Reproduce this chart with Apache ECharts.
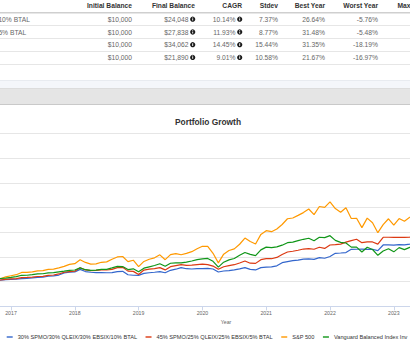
<!DOCTYPE html>
<html><head><meta charset="utf-8">
<script src="https://cdn.jsdelivr.net/npm/echarts@6/dist/echarts.min.js"></script>
<style>html,body{margin:0;padding:0;background:#fff;overflow:hidden;}
#wrap{position:relative;width:410px;height:342px;overflow:hidden;}
#c{position:absolute;left:-120px;top:0;width:700px;height:342px;}</style>
</head><body><div id="wrap"><div id="c"></div></div>
<script>
// ---------- DATA ----------
const seriesNames = ['30% SPMO/30% QLEIX/30% EBSIX/10% BTAL', '45% SPMO/25% QLEIX/25% EBSIX/5% BTAL', 'S&P 500', 'Vanguard Balanced Index Inv'];
const startYear = 2016; // monthly balances from Jan 2016 (start) to Dec 2024
const yearTicks = [2016, 2017, 2018, 2019, 2020, 2021, 2022, 2023, 2024, 2025];

const portfolio1 = [10000, 9800, 9870, 10020, 9960, 10050, 10180, 10240, 10200, 10260, 10330, 10400, 10480,
  10520, 10600, 10680, 10760, 10880, 10920, 11100, 11180, 11340, 11780, 11900, 11961,
  12480, 12050, 11900, 11830, 11850, 11800, 11830, 12020, 12100, 11400, 11300, 11270,
  11680, 11800, 11900, 12040, 11800, 12300, 12520, 12850, 12620, 12560, 12620, 12650,
  12700, 12560, 11960, 12160, 12230, 12380, 12600, 12840, 12500, 12370, 12830, 12950,
  12980, 13200, 13840, 14050, 14250, 14360, 14560, 14600, 14520, 14860, 14730, 15100,
  15740, 15800, 15880, 16550, 16560, 16600, 16550, 16560, 16270, 17420, 17420, 17400,
  17500, 17450, 17600, 17800, 17700, 18100, 18200, 18350, 18300, 18150, 18600, 18986,
  19300, 20100, 20900, 20600, 21300, 22000, 21900, 22300, 22800, 22900, 23700, 24048];

const portfolio2 = [10000, 9720, 9800, 10020, 9980, 10080, 10150, 10290, 10250, 10300, 10340, 10450, 10560,
  10630, 10800, 10850, 10930, 11050, 11080, 11280, 11350, 11560, 11900, 12050, 12103,
  12820, 12370, 12250, 12300, 12380, 12360, 12480, 12850, 12900, 12130, 12080, 11440,
  12350, 12530, 12620, 12830, 12380, 13030, 13250, 13450, 13300, 13350, 13450, 13540,
  13450, 13150, 12500, 13020, 13230, 13430, 13780, 14190, 13730, 13700, 14450, 14650,
  14640, 14900, 15500, 16000, 16150, 16350, 16600, 16700, 16550, 16960, 16730, 17420,
  17500, 17600, 18000, 18290, 18570, 17890, 18030, 18030, 17600, 18980, 18980, 18950,
  18980, 18950, 18990, 19200, 19300, 19900, 20100, 20200, 19900, 19600, 20500, 21173,
  21700, 22900, 24000, 23500, 24500, 25400, 25200, 25700, 26300, 26500, 27800, 27838];

const sp500 = [10000, 9504, 9492, 10136, 10176, 10358, 10385, 10767, 10782, 10784, 10588, 10980, 11197,
  11410, 11863, 11877, 11999, 12168, 12244, 12496, 12535, 12793, 13091, 13493, 13643,
  14425, 13893, 13540, 13592, 13919, 14005, 14526, 14999, 15085, 14053, 14339, 13045,
  14090, 14542, 14824, 15425, 14445, 15463, 15686, 15438, 15727, 16068, 16651, 17154,
  17147, 15736, 13793, 15561, 16302, 16626, 17564, 18827, 18111, 17629, 19560, 20311,
  20106, 20661, 21566, 22718, 22877, 23410, 23967, 24696, 23547, 25198, 25024, 26145,
  24793, 24052, 24944, 22769, 22810, 20928, 22857, 21925, 19906, 21518, 22721, 21412,
  22757, 22202, 23017, 23376, 23477, 25029, 25832, 25421, 24209, 23701, 25865, 27039,
  27690, 29170, 30110, 28880, 30310, 31400, 31790, 32560, 33260, 32960, 34890, 34062];

const vbinx = [10000, 9680, 9740, 10180, 10230, 10330, 10420, 10720, 10740, 10740, 10640, 10730, 10863,
  11030, 11290, 11300, 11420, 11560, 11600, 11780, 11840, 11980, 12120, 12300, 12357,
  12800, 12420, 12280, 12330, 12480, 12500, 12780, 13080, 13060, 12450, 12600, 12003,
  12730, 13000, 13270, 13620, 13130, 13720, 13800, 13790, 13950, 14180, 14470, 14604,
  14700, 14120, 12930, 13940, 14400, 14690, 15330, 15900, 15520, 15250, 16430, 16980,
  16900, 17030, 17380, 17880, 18000, 18290, 18570, 18780, 18280, 18980, 18900, 19300,
  18350, 17950, 17820, 16980, 16990, 16010, 16950, 16500, 15330, 16200, 16650, 16030,
  16880, 16490, 16930, 17120, 17060, 17660, 18010, 17780, 17060, 16710, 18150, 18850,
  19040, 19480, 19990, 19260, 19910, 20340, 20780, 21230, 21640, 21150, 22040, 21890];

// table
const tableHeaders = ['Initial Balance', 'Final Balance', 'CAGR', 'Stdev', 'Best Year', 'Worst Year', 'Max. Drawdown'];
const tableNames = seriesNames;
const initialBalance = ['$10,000', '$10,000', '$10,000', '$10,000'];
const finalBalance = ['$24,048', '$27,838', '$34,062', '$21,890'];
const cagr = ['10.14%', '11.93%', '14.45%', '9.01%'];
const stdev = ['7.37%', '8.77%', '15.44%', '10.58%'];
const bestYear = ['26.64%', '31.48%', '31.35%', '21.67%'];
const worstYear = ['-5.76%', '-5.48%', '-18.19%', '-16.97%'];

// ---------- LAYOUT / STYLE ----------
const OX = 120;           // the page is a crop of a wider chart: offset of the crop inside the chart
const CW = 700;           // full chart width
const FF = '"Liberation Sans", Arial, Helvetica, sans-serif';
const colors = ['#3366CC', '#DC3912', '#FF9900', '#109618'];
const allSeries = [portfolio1, portfolio2, sp500, vbinx];
const monthX = sp500.map((_, i) => startYear + i / 12);

const g = [];
function txt(x, y, s, o) {
  g.push({type: 'text', x: x, y: y, silent: true, style: Object.assign({
    text: s, fill: '#666', fontSize: 6.7, fontFamily: FF, align: 'right', verticalAlign: 'middle'}, o || {})});
}
function hline(y, x1, x2, color, w) {
  g.push({type: 'line', silent: true, shape: {x1: x1, y1: y, x2: x2, y2: y}, style: {stroke: color, lineWidth: w}});
}
function info(cx, cy) {
  g.push({type: 'circle', silent: true, shape: {cx: cx, cy: cy, r: 2.6}, style: {fill: '#1a1a1a'}});
  g.push({type: 'rect', silent: true, shape: {x: cx - 0.45, y: cy - 0.6, width: 0.9, height: 2}, style: {fill: '#fff'}});
  g.push({type: 'rect', silent: true, shape: {x: cx - 0.45, y: cy - 1.8, width: 0.9, height: 0.8}, style: {fill: '#fff'}});
}

// header (x in page pixels, shifted by the group)
const headerRight = [132, 195, 242, 278, 325, 378, 448];
tableHeaders.forEach((h, k) => txt(headerRight[k], 5.5, h, {fill: '#333', fontWeight: 'bold'}));
hline(12.75, -OX, CW - OX, '#cfcfcf', 1.5);
const rowY = [19.2, 32, 44.7, 57.4];
const rowLines = [25.5, 38.5, 51.5, 64.5];
tableNames.forEach((n, r) => {
  const y = rowY[r];
  txt(-112, y, n, {align: 'left'});
  txt(132, y, initialBalance[r]);
  txt(188.5, y, finalBalance[r]); info(192.7, y);
  txt(235.5, y, cagr[r]); info(239.7, y);
  txt(278, y, stdev[r]);
  txt(325, y, bestYear[r]);
  txt(378, y, worstYear[r]);
  hline(rowLines[r], -OX, CW - OX, '#e6e6e6', 1);
});

// bands
g.push({type: 'rect', silent: true, shape: {x: -OX, y: 80, width: CW, height: 8}, style: {fill: '#f4f6fa'}});
hline(80.5, -OX, CW - OX, '#e8ebf0', 1);
g.push({type: 'rect', silent: true, shape: {x: -OX, y: 88, width: CW, height: 16}, style: {fill: '#e5e5e5'}});
hline(88.5, -OX, CW - OX, '#dcdcdc', 1);
hline(104.5, -OX, CW - OX, '#c9c9c9', 1);

// title and axis name
g.push({type: 'text', x: 208, y: 122, silent: true, style: {text: 'Portfolio Growth', fill: '#333', fontSize: 8.4, fontWeight: 'bold', fontFamily: FF, align: 'center', verticalAlign: 'middle'}});
g.push({type: 'text', x: 226, y: 321.5, silent: true, style: {text: 'Year', fill: '#666', fontSize: 5.2, fontFamily: FF, align: 'center', verticalAlign: 'middle'}});

const plotLeft = -52.8 + OX, plotRight = 521.4 + OX;
const chart = echarts.init(document.getElementById('c'), null, {renderer: 'svg', width: CW, height: 342});
chart.setOption({
  animation: false,
  backgroundColor: '#fff',
  graphic: [{type: 'group', x: OX, y: 0, silent: true, children: g}],
  grid: {left: plotLeft, right: CW - plotRight, top: 133.3, bottom: 35.6, containLabel: false},
  xAxis: {
    type: 'value', min: yearTicks[0], max: yearTicks[yearTicks.length - 1], interval: 1,
    axisLine: {show: true, lineStyle: {color: '#ccd6eb', width: 1}},
    axisTick: {show: true, length: 4, lineStyle: {color: '#ccd6eb'}},
    axisLabel: {color: '#666', fontSize: 5.2, fontFamily: FF, margin: 4, formatter: v => String(v)},
    splitLine: {show: false}
  },
  yAxis: {
    type: 'value', min: 5000, max: 40000, interval: 5000,
    axisLabel: {show: false}, axisLine: {show: false}, axisTick: {show: false},
    splitLine: {lineStyle: {color: '#e6e6e6', width: 1}}
  },
  legend: {
    data: seriesNames, left: 6.7 + OX, top: 334, padding: 0, icon: 'rect', itemWidth: 6, itemHeight: 1.4, itemGap: 8.5,
    textStyle: {fontSize: 5.63, color: '#333', fontFamily: FF}
  },
  series: allSeries.map((vals, k) => ({
    name: seriesNames[k], type: 'line', showSymbol: false, symbol: 'none',
    color: colors[k], lineStyle: {width: 1.2, color: colors[k]},
    data: vals.map((v, i) => [monthX[i], v])
  }))
});
</script></body></html>
